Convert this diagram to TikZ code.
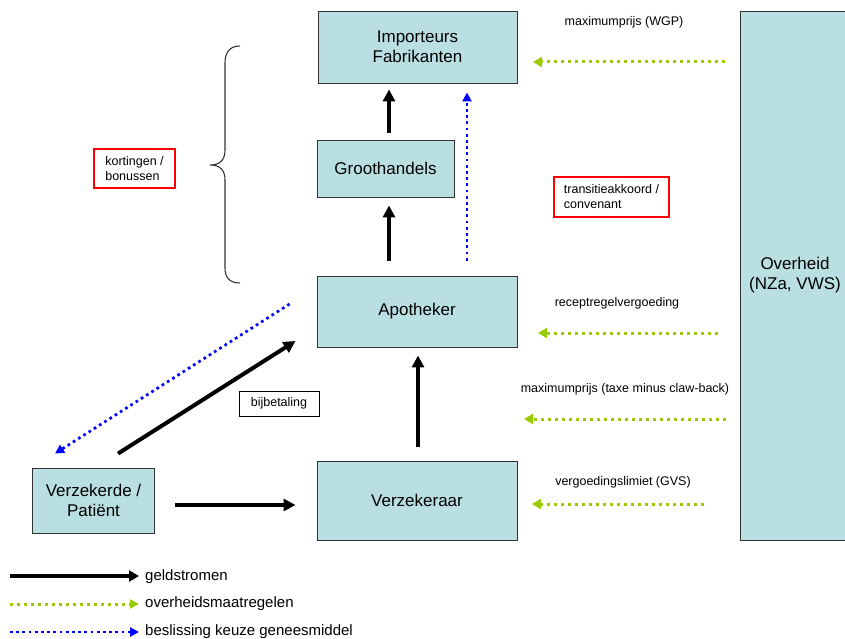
\documentclass[tikz,border=0pt]{standalone}
\usepackage{fontspec}
\setmainfont{Liberation Sans}
\usetikzlibrary{arrows.meta}
\definecolor{boxfill}{RGB}{185,223,226}
\definecolor{govgreen}{RGB}{153,204,0}
\definecolor{decblue}{RGB}{0,0,255}
\begin{document}
\begin{tikzpicture}[x=1pt,y=-1pt,
  actor/.style={draw=black!80,line width=0.9pt,fill=boxfill,align=center,inner sep=0pt,
    font=\fontsize{17}{20}\selectfont},
  redlabel/.style={draw=red,line width=1.4pt,align=left,inner sep=0pt,
    font=\fontsize{12.5}{15}\selectfont},
  plainlabel/.style={align=center,inner sep=0pt,font=\fontsize{12.5}{15}\selectfont},
  money/.style={line width=4pt,-{Triangle[length=12pt,width=12pt]}},
  gov/.style={govgreen,line width=3pt,dash pattern=on 3pt off 4pt,-{Triangle[length=9pt,width=10pt]}},
  choice/.style={decblue,line width=2.7pt,dash pattern=on 2.7pt off 3.5pt,-{Triangle[length=9pt,width=9pt]}},
  legendtext/.style={anchor=west,inner sep=0pt,font=\fontsize{15}{18}\selectfont}
]
\useasboundingbox (0,0) rectangle (845,639);

% actors
\node[actor,minimum width=199pt,minimum height=72pt] (imp) at (417.5,47) {Importeurs\\Fabrikanten};
\node[actor,minimum width=137pt,minimum height=57pt] (gh) at (385.5,168.5) {Groothandels};
\node[actor,minimum width=200pt,minimum height=71pt] (apo) at (417,311.5) {Apotheker};
\node[actor,minimum width=200pt,minimum height=79pt] (vzr) at (417,500.5) {Verzekeraar};
\node[actor,minimum width=122pt,minimum height=65pt] (vzd) at (93.5,500.5) {Verzekerde /\\Patiënt};
\node[actor,minimum width=110pt,minimum height=529pt] (ov) at (795,275.5) {Overheid\\(NZa, VWS)};

% labels
\node[redlabel,minimum width=81pt,minimum height=39pt] (kort) at (134.5,168.5) {kortingen /\\bonussen};
\node[redlabel,minimum width=115pt,minimum height=40pt] (trans) at (611.5,197) {transitieakkoord /\\convenant};
\node[plainlabel,draw=black,line width=0.9pt,minimum width=80pt,minimum height=25pt] (bij) at (279,403.5) {bijbetaling};
\node[plainlabel] (lwgp) at (624,22) {maximumprijs (WGP)};
\node[plainlabel] (lrec) at (617,303) {receptregelvergoeding};
\node[plainlabel] (ltaxe) at (625,389) {maximumprijs (taxe minus claw-back)};
\node[plainlabel] (lgvs) at (623,482) {vergoedingslimiet (GVS)};

% brace
\draw[black!80,line width=1.1pt] (240,46) .. controls (230,46) and (225,52) .. (225,63) -- (225,150)
  .. controls (225,160) and (220,165) .. (210,165) .. controls (220,165) and (225,170) .. (225,180)
  -- (225,268) .. controls (225,278) and (230,283) .. (240,283);

% money flows
\draw[money,shorten <=7pt,shorten >=6pt] ([xshift=3.5pt]gh.north) -- ([xshift=-28.5pt]imp.south);
\draw[money,shorten <=15pt,shorten >=8pt] ([xshift=-28pt]apo.north) -- ([xshift=3.5pt]gh.south);
\draw[money,shorten <=14pt,shorten >=8pt] ([xshift=1pt]vzr.north) -- ([xshift=1pt]apo.south);
\draw[money,shorten <=20pt,shorten >=21pt] ([yshift=-4.5pt]vzd.east) -- ([yshift=-4.5pt]vzr.west -| vzr.west);
\draw[money] ([xshift=24.5pt,yshift=14pt]vzd.north) -- ([xshift=-21pt,yshift=-29.5pt]apo.west);

% choice flows
\draw[choice,shorten <=15pt,shorten >=9pt] ([xshift=50pt]apo.north) -- ([xshift=49.5pt]imp.south);
\draw[choice] ([xshift=-27pt,yshift=7.5pt]apo.west) -- ([xshift=-38.5pt,yshift=14pt]vzd.north);

% government measures
\coordinate (g1s) at (725,62);  \coordinate (g1e) at (533,62);
\coordinate (g2s) at (718,333); \coordinate (g2e) at (538,333);
\coordinate (g3s) at (726,419); \coordinate (g3e) at (524,419);
\coordinate (g4s) at (704,504); \coordinate (g4e) at (532,504);
\draw[gov] (g1s) -- (g1e);
\draw[gov] (g2s) -- (g2e);
\draw[gov] (g3s) -- (g3e);
\draw[gov] (g4s) -- (g4e);

% legend
\coordinate (l1s) at (10,576); \coordinate (l1e) at (139,576);
\coordinate (l2s) at (10,604); \coordinate (l2e) at (139,604);
\coordinate (l3s) at (10,632); \coordinate (l3e) at (139,632);
\draw[line width=3.5pt,-{Triangle[length=10pt,width=11pt]}] (l1s) -- (l1e);
\draw[gov,-{Triangle[length=9pt,width=9pt]}] (l2s) -- (l2e);
\draw[choice,-{Triangle[length=9pt,width=9pt]}] (l3s) -- (l3e);
\node[legendtext] (t1) at (145,577) {geldstromen};
\node[legendtext] (t2) at (145,604) {overheidsmaatregelen};
\node[legendtext] (t3) at (145,632) {beslissing keuze geneesmiddel};
\end{tikzpicture}
\end{document}
